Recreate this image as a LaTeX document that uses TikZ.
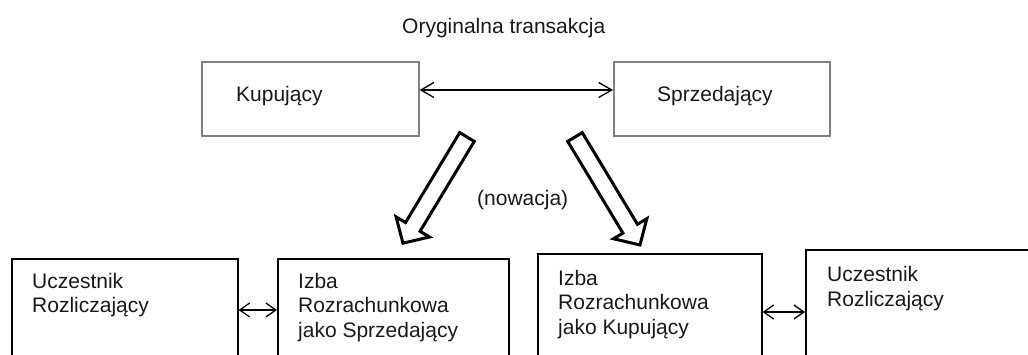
\documentclass[tikz,border=0pt]{standalone}
\usepackage{fontspec}
\setmainfont{Liberation Sans}
\usetikzlibrary{arrows.meta,calc}
\begin{document}
\begin{tikzpicture}[x=1pt,y=-1pt,
  txt/.style={inner sep=0pt, font=\fontsize{21}{24.5}\selectfont, align=left, text=black!90},
  topbox/.style={draw=black!50, line width=1.6pt, inner sep=0pt, anchor=north west},
  botbox/.style={draw=black, line width=1.6pt, inner sep=0pt, anchor=north west},
  link/.style={line width=1.3pt, {Straight Barb[length=13pt,width=15pt]}-{Straight Barb[length=13pt,width=15pt]}},
  smalllink/.style={line width=1.3pt, {Straight Barb[length=10pt,width=14pt]}-{Straight Barb[length=10pt,width=14pt]}},
  hollow/.style={draw=black, line width=3pt, fill=white, line join=miter, miter limit=4}
]
\useasboundingbox (0,0) rectangle (1028,354);
\clip (0,0) rectangle (1028,354);

% title
\node[txt, anchor=base west] (title) at (402,33) {Oryginalna transakcja};

% top boxes
\node[topbox, minimum width=217pt, minimum height=74pt] (kup) at (201,61) {};
\node[topbox, minimum width=216pt, minimum height=74pt] (sprz) at (613,61) {};
\node[txt, anchor=base west] (kupt) at (236,101.5) {Kupujący};
\node[txt, anchor=base west] (sprzt) at (657,101.5) {Sprzedający};
\draw[link] (kup.east |- 0,90) -- (sprz.west |- 0,90);

% novation arrows
\coordinate (la) at (467,137);
\coordinate (ra) at (575,137);
\begin{scope}[shift={(la)}, rotate=238.9]
  \draw[hollow] (0,-8.5) -- (105,-8.5) -- (105,-19.5) -- (124,0) -- (105,19.5) -- (105,8.5) -- (0,8.5) -- cycle;
\end{scope}
\begin{scope}[shift={(ra)}, rotate=-58.96]
  \draw[hollow] (0,-8.5) -- (107,-8.5) -- (107,-19.5) -- (126,0) -- (107,19.5) -- (107,8.5) -- (0,8.5) -- cycle;
\end{scope}
\node[txt, anchor=base west] (nov) at (477,205) {(nowacja)};

% bottom boxes
\node[botbox, minimum width=226pt, minimum height=130pt] (b1) at (11,258) {};
\node[botbox, minimum width=231pt, minimum height=130pt] (b2) at (277,258) {};
\node[botbox, minimum width=224pt, minimum height=130pt] (b3) at (537,253) {};
\node[botbox, minimum width=320pt, minimum height=130pt] (b4) at (805,249) {};

\node[txt, anchor=north west] (b1t) at (32,273) {Uczestnik\\Rozliczający};
\node[txt, anchor=north west] (b2t) at (298,273) {Izba\\Rozrachunkowa\\jako Sprzedający};
\node[txt, anchor=north west] (b3t) at (558,270) {Izba\\Rozrachunkowa\\jako Kupujący};
\node[txt, anchor=north west] (b4t) at (827,266.5) {Uczestnik\\Rozliczający};

\draw[smalllink] (b1.east |- 0,310) -- (b2.west |- 0,310);
\draw[smalllink] (b3.east |- 0,312) -- (b4.west |- 0,312);
\end{tikzpicture}
\end{document}
